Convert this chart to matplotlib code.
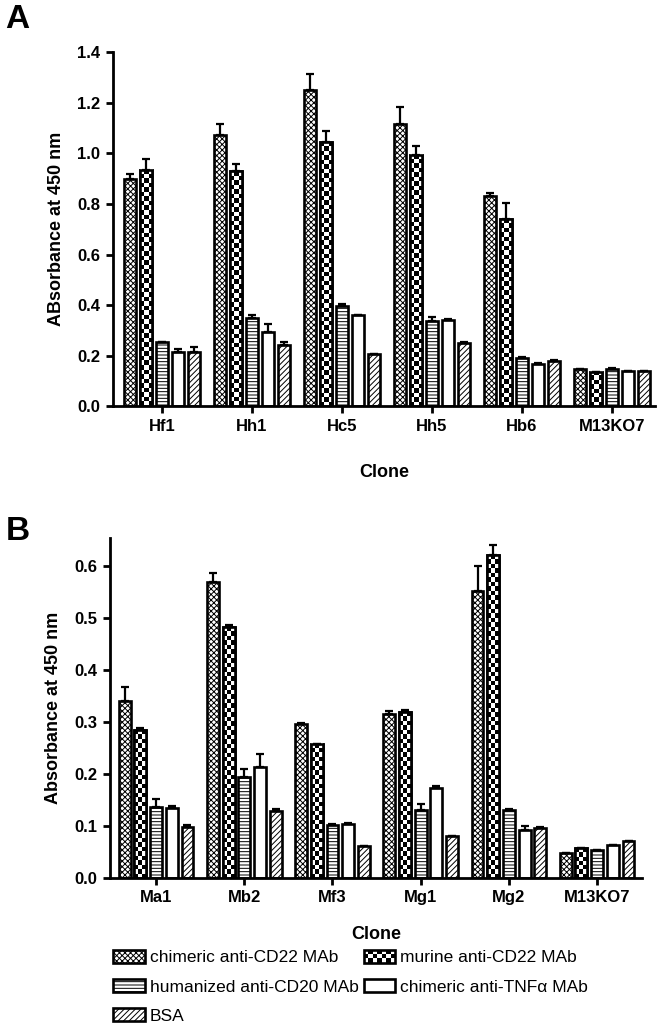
import numpy as np
import matplotlib
matplotlib.use('Agg')
import matplotlib.pyplot as plt
from matplotlib.patches import Rectangle
from matplotlib.legend_handler import HandlerBase

plt.rcParams['font.family'] = ['Liberation Sans', 'DejaVu Sans']
plt.rcParams['hatch.linewidth'] = 0.7

# 数据
series = ['chimeric anti-CD22 MAb', 'murine anti-CD22 MAb', 'humanized anti-CD20 MAb',
          'chimeric anti-TNF\u03b1 MAb', 'BSA']

clones_a = ['Hf1', 'Hh1', 'Hc5', 'Hh5', 'Hb6', 'M13KO7']
chim_a = [0.900, 1.075, 1.250, 1.115, 0.830, 0.145]
mur_a = [0.935, 0.930, 1.045, 0.995, 0.740, 0.135]
hum_a = [0.255, 0.350, 0.395, 0.335, 0.190, 0.145]
tnf_a = [0.215, 0.295, 0.360, 0.340, 0.168, 0.140]
bsa_a = [0.213, 0.240, 0.205, 0.250, 0.180, 0.138]
chim_a_err = [0.018, 0.040, 0.065, 0.070, 0.012, 0.000]
mur_a_err = [0.045, 0.030, 0.045, 0.035, 0.065, 0.000]
hum_a_err = [0.000, 0.010, 0.008, 0.018, 0.005, 0.004]
tnf_a_err = [0.012, 0.030, 0.000, 0.005, 0.004, 0.000]
bsa_a_err = [0.020, 0.015, 0.000, 0.005, 0.004, 0.000]

clones_b = ['Ma1', 'Mb2', 'Mf3', 'Mg1', 'Mg2', 'M13KO7']
chim_b = [0.340, 0.568, 0.295, 0.316, 0.552, 0.047]
mur_b = [0.284, 0.482, 0.258, 0.318, 0.620, 0.057]
hum_b = [0.137, 0.194, 0.102, 0.130, 0.131, 0.053]
tnf_b = [0.135, 0.214, 0.103, 0.172, 0.092, 0.063]
bsa_b = [0.098, 0.128, 0.062, 0.080, 0.096, 0.070]
chim_b_err = [0.027, 0.018, 0.003, 0.004, 0.047, 0.000]
mur_b_err = [0.004, 0.005, 0.000, 0.004, 0.020, 0.000]
hum_b_err = [0.014, 0.015, 0.002, 0.013, 0.002, 0.000]
tnf_b_err = [0.003, 0.025, 0.002, 0.005, 0.008, 0.000]
bsa_b_err = [0.003, 0.004, 0.000, 0.001, 0.002, 0.000]

W = 0.135
STEP = 0.178
EDGE_LW = 1.9


def checker(nr, nc):
    return (np.add.outer(np.arange(nr), np.arange(nc)) % 2).astype(float)


def draw_panel(ax, fig, clones, vals, errs, ylim, yticks, ylabel, xlim, xpad):
    ax.set_xlim(*xlim)
    ax.set_ylim(*ylim)
    fig.canvas.draw()
    bb = ax.get_window_extent()
    ppx = bb.width / (xlim[1] - xlim[0])
    ppy = bb.height / (ylim[1] - ylim[0])
    x = np.arange(len(clones))
    hatches = ['xxxxxx', None, '-----', None, '//////']
    for i, (v, e) in enumerate(zip(vals, errs)):
        xs = x + (i - 2) * STEP
        ax.bar(xs, v, width=W, facecolor='white', edgecolor='black',
               linewidth=EDGE_LW, hatch=hatches[i], zorder=2)
        if i == 1:
            # 粗棋盘格
            for xi, h in zip(xs, v):
                sq = 4.5
                nc = max(1, int(round(W * ppx / sq)))
                nr = max(1, int(round(h * ppy / sq)))
                ax.imshow(checker(nr, nc), cmap='gray', interpolation='nearest',
                          extent=[xi - W / 2, xi + W / 2, 0, h], origin='lower',
                          aspect='auto', zorder=2.5)
            ax.bar(xs, v, width=W, facecolor='none', edgecolor='black',
                   linewidth=EDGE_LW, zorder=3)
        ax.errorbar(xs, v, yerr=[np.zeros(len(v)), e], fmt='none', ecolor='black',
                    elinewidth=1.6, capsize=3, capthick=1.6, zorder=4)
    ax.set_xlim(*xlim)
    ax.set_ylim(*ylim)
    ax.set_xticks(x)
    ax.set_xticklabels(clones, fontsize=12, fontweight='bold')
    ax.set_yticks(yticks)
    ax.set_yticklabels(['%.1f' % t for t in yticks], fontsize=12, fontweight='bold')
    ax.set_ylabel(ylabel, fontsize=13, fontweight='bold', labelpad=9)
    ax.set_xlabel('Clone', fontsize=13, fontweight='bold', labelpad=xpad)
    for s in ['top', 'right']:
        ax.spines[s].set_visible(False)
    for s in ['left', 'bottom']:
        ax.spines[s].set_linewidth(2.0)
    ax.tick_params(width=2.0, length=5, pad=4)


class HandlerChecker(HandlerBase):
    def create_artists(self, legend, orig_handle, xdescent, ydescent, width, height,
                       fontsize, trans):
        arts = []
        nc, nr = 7, 3
        dw, dh = width / nc, height / nr
        for r in range(nr):
            for c in range(nc):
                col = 'black' if (r + c) % 2 else 'white'
                arts.append(Rectangle((-xdescent + c * dw, -ydescent + r * dh), dw, dh,
                                      facecolor=col, edgecolor='none', transform=trans))
        arts.append(Rectangle((-xdescent, -ydescent), width, height, facecolor='none',
                              edgecolor='black', linewidth=EDGE_LW, transform=trans))
        return arts


fig = plt.figure(figsize=(6.64, 10.28), dpi=100)
ax_a = fig.add_axes([0.170, 0.605, 0.816, 0.344])
ax_b = fig.add_axes([0.166, 0.146, 0.801, 0.331])

draw_panel(ax_a, fig, clones_a, [chim_a, mur_a, hum_a, tnf_a, bsa_a],
           [chim_a_err, mur_a_err, hum_a_err, tnf_a_err, bsa_a_err],
           (0, 1.4), np.arange(0, 1.41, 0.2), 'ABsorbance at 450 nm', (-0.544, 5.478), 22)
draw_panel(ax_b, fig, clones_b, [chim_b, mur_b, hum_b, tnf_b, bsa_b],
           [chim_b_err, mur_b_err, hum_b_err, tnf_b_err, bsa_b_err],
           (0, 0.654), np.arange(0, 0.61, 0.1), 'Absorbance at 450 nm', (-0.52, 5.51), 15)

fig.text(0.008, 0.981, 'A', fontsize=24, fontweight='bold', va='center')
fig.text(0.008, 0.483, 'B', fontsize=24, fontweight='bold', va='center')

h_chim = Rectangle((0, 0), 1, 1, facecolor='white', edgecolor='black', hatch='xxxxxx', linewidth=EDGE_LW)
h_mur = Rectangle((0, 0), 1, 1, facecolor='white', edgecolor='black', linewidth=EDGE_LW)
h_hum = Rectangle((0, 0), 1, 1, facecolor='white', edgecolor='black', hatch='-----', linewidth=EDGE_LW)
h_tnf = Rectangle((0, 0), 1, 1, facecolor='white', edgecolor='black', linewidth=EDGE_LW)
h_bsa = Rectangle((0, 0), 1, 1, facecolor='white', edgecolor='black', hatch='//////', linewidth=EDGE_LW)

handles = [h_chim, h_hum, h_bsa, h_mur, h_tnf]
labels = [series[0], series[2], series[4], series[1], series[3]]
fig.legend(handles, labels, ncol=2, loc='upper left', bbox_to_anchor=(0.155, 0.086),
           frameon=False, fontsize=12.5, handlelength=1.8, handleheight=0.75,
           handletextpad=0.3, columnspacing=0.3, labelspacing=0.79,
           borderaxespad=0.2, handler_map={h_mur: HandlerChecker()})

fig.savefig('out.png', dpi=100)
